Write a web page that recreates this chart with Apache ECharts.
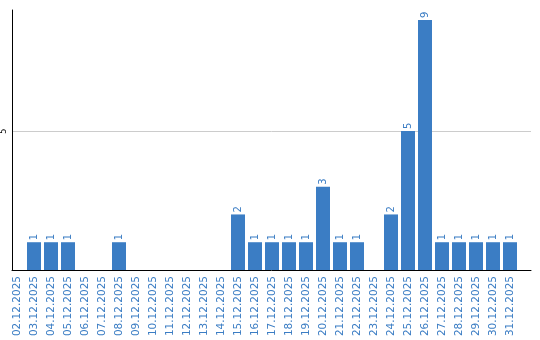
<!DOCTYPE html>
<html><head><meta charset="utf-8">
<script src="https://cdn.jsdelivr.net/npm/echarts@6/dist/echarts.min.js"></script>
<style>html,body{margin:0;padding:0;background:#fff}#c{width:540px;height:340px}</style>
</head><body><div id="c"></div>
<script>
const categories = ["02.12.2025","03.12.2025","04.12.2025","05.12.2025","06.12.2025","07.12.2025","08.12.2025","09.12.2025","10.12.2025","11.12.2025","12.12.2025","13.12.2025","14.12.2025","15.12.2025","16.12.2025","17.12.2025","18.12.2025","19.12.2025","20.12.2025","21.12.2025","22.12.2025","23.12.2025","24.12.2025","25.12.2025","26.12.2025","27.12.2025","28.12.2025","29.12.2025","30.12.2025","31.12.2025"];
const values = [0,1,1,1,0,0,1,0,0,0,0,0,0,2,1,1,1,1,3,1,1,0,2,5,9,1,1,1,1,1];
const yMax = 9.36;
const yInterval = 5;

const blue = '#3b7dc4';
const font = 'DejaVu Sans';
const chart = echarts.init(document.getElementById('c'), null, {renderer:'canvas'});
chart.setOption({
  animation:false,
  backgroundColor:'#fff',
  grid:[
    {left:10.5, right:9, top:10, bottom:70, containLabel:false},
    {left:8.5, width:510, top:10, bottom:70, containLabel:false}
  ],
  xAxis:[
    {gridIndex:0, type:'value', min:0, max:1, axisLine:{show:true, lineStyle:{color:'#000', width:1}}, axisTick:{show:false}, axisLabel:{show:false}, splitLine:{show:false}},
    {gridIndex:1, type:'category', data:categories, axisLine:{show:false}, axisTick:{show:false},
     axisLabel:{interval:0, rotate:90, margin:6, color:blue, fontFamily:font, fontSize:10.5}}
  ],
  yAxis:[
    {gridIndex:0, type:'value', min:0, max:yMax, interval:yInterval,
     axisLine:{show:true, lineStyle:{color:'#000', width:1}}, axisTick:{show:false},
     axisLabel:{rotate:90, margin:4, color:'#000', fontFamily:font, fontSize:8, showMaxLabel:false, showMinLabel:false},
     splitLine:{show:true, lineStyle:{color:['rgba(0,0,0,0)','#cccccc','rgba(0,0,0,0)'], width:1}}},
    {gridIndex:1, type:'value', min:0, max:yMax, interval:yInterval, show:false, splitLine:{show:false}}
  ],
  series:[{
    type:'bar', xAxisIndex:1, yAxisIndex:1, data:values, barWidth:14,
    itemStyle:{color:blue},
    label:{show:true, position:'top', rotate:90, align:'left', verticalAlign:'middle', distance:2,
      color:blue, fontFamily:font, fontSize:10,
      formatter:p=>p.value>0?String(p.value):''}
  }]
});
</script></body></html>
